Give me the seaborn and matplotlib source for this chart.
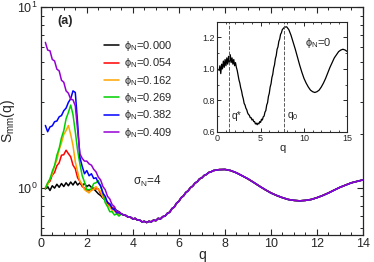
import numpy as np
import pandas as pd
import matplotlib
matplotlib.use("Agg")
import matplotlib.pyplot as plt
import seaborn as sns
from matplotlib.ticker import MultipleLocator, LogLocator, NullFormatter

# --------------------
# Data
# --------------------
phi_labels = ["0.000", "0.054", "0.162", "0.269", "0.382", "0.409"]
colors = ["black", "#ff0000", "#ffa500", "#00d000", "#0000ff", "#9400d3"]

q_low = [0.2, 0.3, 0.4, 0.5, 0.6, 0.7, 0.8, 0.9, 1.0, 1.1, 1.2, 1.3, 1.4, 1.5, 1.6, 1.7,
         1.8, 1.9, 2.0, 2.1, 2.2, 2.3, 2.4, 2.5, 2.6, 2.7, 2.8, 2.9, 3.0, 3.1, 3.2, 3.3, 3.4]

s_black = [0.99, 1.02, 0.97, 1.03, 1.00, 1.05, 1.01, 1.06, 1.02, 1.07, 1.03, 1.08, 1.04, 1.09,
           1.04, 1.07, 1.03, 1.06, 1.02, 1.04, 1.01, 0.99, 0.96, 0.93, 0.91, 0.88, 0.86, 0.83,
           0.81, 0.78, 0.77, 0.75, 0.74]
s_red = [1.00, 1.06, 1.09, 1.18, 1.22, 1.33, 1.38, 1.52, 1.53, 1.62, 1.55, 1.49, 1.34, 1.28,
         1.14, 1.09, 1.02, 1.00, 0.96, 0.97, 0.97, 1.00, 0.99, 0.99, 0.93, 0.91, 0.85, 0.84,
         0.79, 0.78, 0.75, 0.74, 0.72]
s_orange = [1.01, 1.04, 1.13, 1.19, 1.33, 1.43, 1.63, 1.78, 1.98, 2.08, 2.22, 1.98, 1.72, 1.40,
            1.23, 1.09, 1.05, 0.98, 0.96, 0.94, 0.98, 0.98, 1.02, 0.98, 0.96, 0.89, 0.86, 0.80,
            0.79, 0.75, 0.75, 0.72, 0.72]
s_green = [0.99, 1.07, 1.12, 1.24, 1.33, 1.52, 1.66, 1.90, 2.08, 2.42, 2.62, 2.88, 2.55, 2.05,
           1.62, 1.36, 1.17, 1.08, 0.98, 0.98, 0.99, 1.06, 1.07, 1.10, 1.02, 0.94, 0.83, 0.79,
           0.74, 0.74, 0.71, 0.72, 0.70]
s_blue = [2.22, 2.05, 2.18, 2.21, 2.33, 2.35, 2.48, 2.52, 2.68, 2.77, 2.98, 3.12, 3.45, 3.38,
          2.30, 1.48, 1.32, 1.20, 1.25, 1.17, 1.20, 1.13, 1.14, 1.07, 1.03, 0.94, 0.90, 0.83,
          0.82, 0.77, 0.76, 0.73, 0.73]
s_purple = [6.40, 5.80, 5.75, 5.15, 5.05, 4.55, 4.45, 3.95, 3.85, 3.45, 3.35, 3.10, 3.08, 2.85,
            2.10, 1.55, 1.46, 1.41, 1.41, 1.36, 1.34, 1.27, 1.23, 1.15, 1.11, 1.02, 0.98, 0.90,
            0.87, 0.81, 0.79, 0.74, 0.74]

# common part at large q (all phi_N collapse)
q_tail = [3.5, 3.6, 3.7, 3.8, 3.9, 4.0, 4.1, 4.2, 4.3, 4.4, 4.5, 4.6, 4.7, 4.8, 4.9, 5.0,
          5.1, 5.2, 5.3, 5.4, 5.5, 5.6, 5.7, 5.8, 5.9, 6.0, 6.1, 6.2, 6.3, 6.4, 6.5, 6.6,
          6.7, 6.8, 6.9, 7.0, 7.1, 7.2, 7.3, 7.4, 7.5,
          7.75, 8.0, 8.25, 8.5, 8.75, 9.0, 9.25, 9.5, 9.75, 10.0, 10.25, 10.5, 10.75, 11.0,
          11.25, 11.5, 11.75, 12.0, 12.25, 12.5, 12.75, 13.0, 13.25, 13.5, 13.75, 14.0,
          14.25, 14.5, 14.75, 15.0]
s_tail = [0.72, 0.71, 0.705, 0.69, 0.69, 0.675, 0.68, 0.665, 0.665, 0.65, 0.655, 0.645, 0.655,
          0.65, 0.665, 0.66, 0.68, 0.675, 0.695, 0.70, 0.725, 0.735, 0.77, 0.785, 0.825, 0.845,
          0.885, 0.905, 0.945, 0.965, 1.005, 1.025, 1.065, 1.085, 1.125, 1.14, 1.175, 1.19,
          1.22, 1.23, 1.25,
          1.265, 1.268, 1.25, 1.215, 1.17, 1.125, 1.075, 1.025, 0.98, 0.94, 0.91, 0.885, 0.865,
          0.855, 0.85, 0.855, 0.865, 0.885, 0.91, 0.94, 0.975, 1.01, 1.04, 1.07, 1.09, 1.11,
          1.12, 1.125, 1.12, 1.11]

q_star = 1.35
q_zero = 7.75

curves = [s_black, s_red, s_orange, s_green, s_blue, s_purple]

# --------------------
# Style
# --------------------
sns.set_theme(style="ticks")
plt.rcParams["font.family"] = ["Liberation Sans", "DejaVu Sans"]
plt.rcParams["mathtext.fontset"] = "custom"
plt.rcParams["mathtext.rm"] = "Liberation Sans"
plt.rcParams["mathtext.it"] = "Liberation Sans:italic"
plt.rcParams["mathtext.default"] = "regular"

fig = plt.figure(figsize=(3.74, 2.62), dpi=100)
ax = fig.add_axes([0.109, 0.103, 0.8616, 0.869])

# one call per curve so phi_N=0.409 ends up on top, as in the reference
for i, (lab, s_low, col) in enumerate(zip(phi_labels, curves, colors)):
    d = pd.DataFrame({"q": q_low + q_tail, "S": s_low + s_tail})
    sns.lineplot(data=d, x="q", y="S", sort=False, estimator=None, color=col,
                 linewidth=1.1, label="ϕ$_\\mathrm{N}$=" + lab, ax=ax, zorder=2 + i)

ax.set_yscale("log")
ax.set_xlim(0, 14)
ax.set_ylim(0.55, 10)
ax.xaxis.set_major_locator(MultipleLocator(2))
ax.xaxis.set_minor_locator(MultipleLocator(0.5))
ax.yaxis.set_major_locator(LogLocator(base=10))
ax.yaxis.set_minor_locator(LogLocator(base=10, subs=np.arange(2, 10)))
ax.yaxis.set_minor_formatter(NullFormatter())
ax.tick_params(which="both", direction="in", top=True, right=True, labelsize=9, pad=2)
ax.tick_params(which="major", length=4, width=0.8)
ax.tick_params(which="minor", length=2.2, width=0.7)
for sp in ax.spines.values():
    sp.set_linewidth(0.9)
ax.set_xlabel("q", fontsize=10, labelpad=-1)
ax.set_ylabel("S$_\\mathrm{mm}$(q)", fontsize=10, labelpad=0)

handles, labels = ax.get_legend_handles_labels()
ax.legend(handles, labels, loc="upper left", bbox_to_anchor=(0.18, 0.885), frameon=False,
          fontsize=8, handlelength=1.3, handletextpad=0.5, labelspacing=0.3, borderpad=0)

ax.text(0.05, 0.94, "(a)", transform=ax.transAxes, fontsize=9, fontweight="bold",
        ha="left", va="center")
ax.text(4.0, 1.09, "σ$_\\mathrm{N}$=4", fontsize=8.5, ha="left", va="center")

# --------------------
# Inset: phi_N = 0
# --------------------
axins = fig.add_axes([0.581, 0.497, 0.3476, 0.42])
sns.lineplot(x=q_low + q_tail, y=s_black + s_tail, sort=False, estimator=None,
             color="black", linewidth=0.9, ax=axins)
axins.axvline(q_star, ls="--", color="0.35", lw=0.7)
axins.axvline(q_zero, ls="--", color="0.35", lw=0.7)
axins.set_xlim(0, 15)
axins.set_ylim(0.6, 1.3)
axins.xaxis.set_major_locator(MultipleLocator(5))
axins.xaxis.set_minor_locator(MultipleLocator(1))
axins.yaxis.set_major_locator(MultipleLocator(0.2))
axins.yaxis.set_minor_locator(MultipleLocator(0.1))
axins.tick_params(which="both", direction="in", top=True, right=True, labelsize=6.5, pad=1.5)
axins.tick_params(which="major", length=3, width=0.7)
axins.tick_params(which="minor", length=1.6, width=0.6)
for sp in axins.spines.values():
    sp.set_linewidth(0.8)
axins.set_xlabel("q", fontsize=8, labelpad=0)
axins.set_ylabel("")
axins.text(q_star + 0.3, 0.70, "q*", fontsize=7.5, ha="left", va="center")
axins.text(q_zero + 0.3, 0.70, "q$_0$", fontsize=7.5, ha="left", va="center")
axins.text(11.6, 1.165, "ϕ$_\\mathrm{N}$=0", fontsize=8, ha="center", va="center")

fig.savefig("out.png", dpi=100)
